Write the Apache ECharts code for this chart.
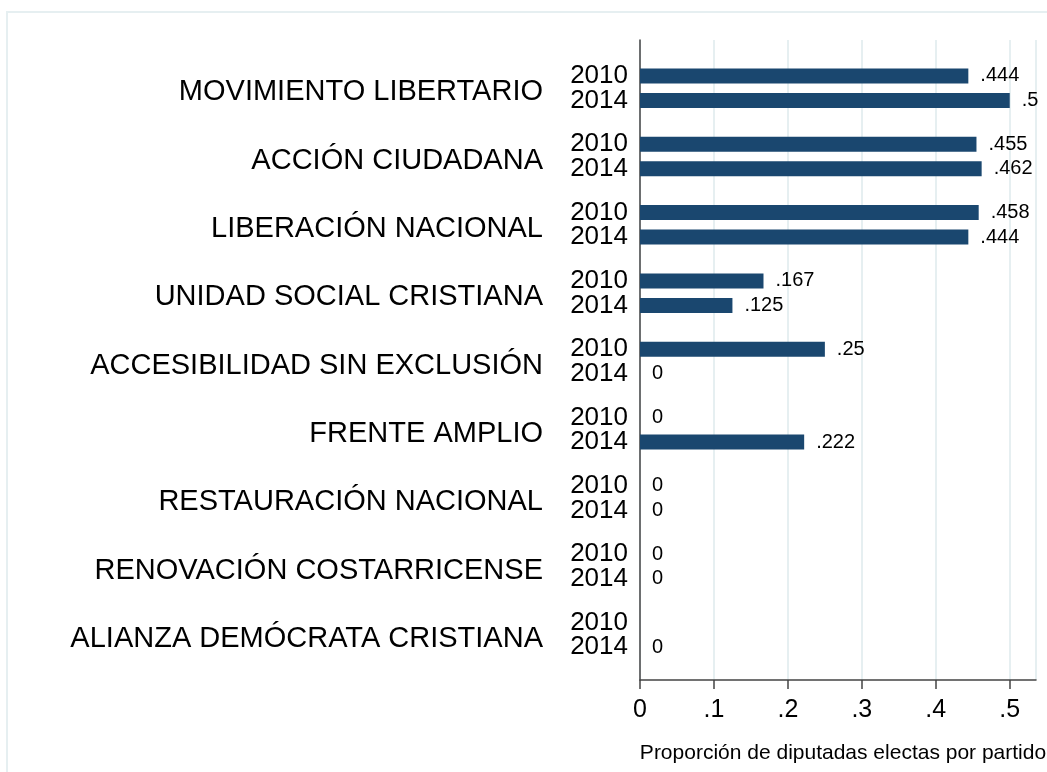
<!DOCTYPE html>
<html>
<head>
    <meta charset="utf-8">
    <script src="https://cdn.jsdelivr.net/npm/echarts@6/dist/echarts.min.js"></script>
</head>
<body style="margin:0;background:#fff;">
<div id="main" style="width: 1047px;height:772px;"></div>
<script type="text/javascript">
    // partidos y proporciones
    var parties = ['MOVIMIENTO LIBERTARIO', 'ACCIÓN CIUDADANA', 'LIBERACIÓN NACIONAL',
        'UNIDAD SOCIAL CRISTIANA', 'ACCESIBILIDAD SIN EXCLUSIÓN', 'FRENTE AMPLIO',
        'RESTAURACIÓN NACIONAL', 'RENOVACIÓN COSTARRICENSE', 'ALIANZA DEMÓCRATA CRISTIANA'];
    var years = ['2010', '2014'];
    var v2010 = [0.444, 0.455, 0.458, 0.167, 0.25, 0, 0, 0, '-'];
    var v2014 = [0.5, 0.462, 0.444, 0.125, 0, 0.222, 0, 0, 0];
    var xTicks = [0, 0.1, 0.2, 0.3, 0.4, 0.5];

    var font = 'Liberation Sans, Arial, sans-serif';
    var barColor = '#1a476f';
    var gridColor = '#e6eff1';

    function fmt(v) {
        return String(v).replace(/^0\./, '.');
    }

    var myChart = echarts.init(document.getElementById('main'));

    var xMax = 0.5355;
    var zeros = parties.map(function () { return 0; });

    function valueSeries(name, data) {
        return {
            name: name, type: 'bar', xAxisIndex: 1, yAxisIndex: 1,
            data: data, barWidth: 15, barGap: '63%',
            itemStyle: {color: barColor},
            label: {
                show: true, position: 'right', distance: 12,
                fontFamily: font, fontSize: 20, color: '#000',
                formatter: function (p) { return fmt(p.value); }
            },
            silent: true
        };
    }

    function yearSeries(name) {
        return {
            name: name, type: 'bar', xAxisIndex: 2, yAxisIndex: 2,
            data: zeros, barWidth: 15, barGap: '63%',
            itemStyle: {color: 'rgba(0,0,0,0)'},
            label: {
                show: true, position: 'left', distance: 12,
                fontFamily: font, fontSize: 26, color: '#000',
                formatter: function (p) { return p.seriesName; }
            },
            silent: true
        };
    }

    var option = {
        animation: false,
        graphic: [{
            type: 'rect', shape: {x: 7, y: 12, width: 1100, height: 800},
            style: {fill: 'none', stroke: gridColor, lineWidth: 2}, silent: true
        }],
        grid: [
            {left: 640, top: 40, width: 396, height: 640, outerBoundsMode: 'none'},
            {left: 640, top: 54, width: 396, height: 615, outerBoundsMode: 'none'},
            {left: 640, top: 54, width: 396, height: 615, outerBoundsMode: 'none'},
            {left: 640, top: 58, width: 396, height: 615, outerBoundsMode: 'none'}
        ],
        xAxis: [{
            gridIndex: 0, type: 'value', min: 0, max: xMax, interval: 0.1,
            name: 'Proporción de diputadas electas por partido',
            nameLocation: 'middle', nameGap: 63,
            nameTextStyle: {fontFamily: font, fontSize: 21, color: '#000', padding: [0, 0, 0, 10]},
            axisLine: {show: true, lineStyle: {color: '#444', width: 1.5}},
            axisTick: {show: true, length: 9, lineStyle: {color: '#444', width: 1.5}},
            axisLabel: {
                margin: 18, fontFamily: font, fontSize: 25, color: '#000',
                showMaxLabel: false,
                formatter: function (v) {
                    for (var i = 0; i < xTicks.length; i++) {
                        if (Math.abs(v - xTicks[i]) < 1e-6) return fmt(xTicks[i]);
                    }
                    return '';
                }
            },
            splitLine: {show: true, lineStyle: {color: gridColor, width: 2}}
        }, {
            gridIndex: 1, type: 'value', min: 0, max: xMax, show: false
        }, {
            gridIndex: 2, type: 'value', min: 0, max: xMax, show: false
        }, {
            gridIndex: 3, type: 'value', min: 0, max: xMax, show: false
        }],
        yAxis: [{
            gridIndex: 0, type: 'value', min: 0, max: 1,
            axisLine: {show: true, lineStyle: {color: '#444', width: 1.5}},
            axisTick: {show: false}, axisLabel: {show: false}, splitLine: {show: false}
        }, {
            gridIndex: 1, type: 'category', data: parties, inverse: true, show: false
        }, {
            gridIndex: 2, type: 'category', data: parties, inverse: true, show: false
        }, {
            gridIndex: 3, type: 'category', data: parties, inverse: true,
            axisLine: {show: false}, axisTick: {show: false},
            axisLabel: {margin: 97, fontFamily: font, fontSize: 29, color: '#000'}
        }],
        series: [
            valueSeries(years[0], v2010),
            valueSeries(years[1], v2014),
            yearSeries(years[0]),
            yearSeries(years[1])
        ]
    };

    myChart.setOption(option);
</script>
</body>
</html>
